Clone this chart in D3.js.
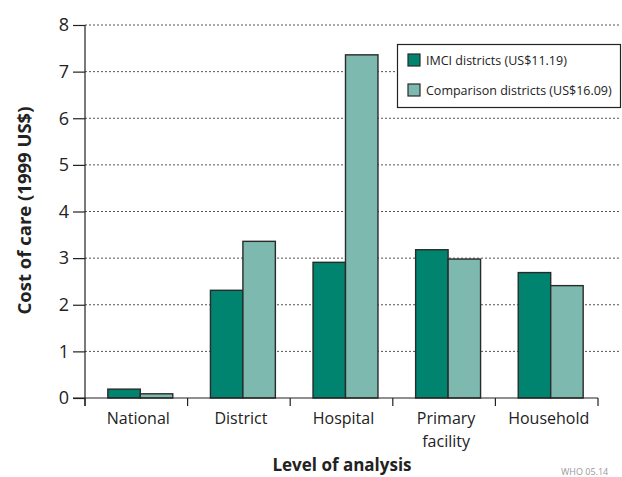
<!DOCTYPE html>
<html>
<head>
<meta charset="utf-8">
<script src="https://cdn.jsdelivr.net/npm/d3@7"></script>
<style>
  html, body { margin: 0; padding: 0; background: #fff; }
  svg { display: block; font-family: "Open Sans", "Noto Sans", sans-serif; }
</style>
</head>
<body>
<div id="chart"></div>
<script>
// chart data
const categories = ['National', 'District', 'Hospital', 'Primary facility', 'Household'];
const seriesNames = ['IMCI districts (US$11.19)', 'Comparison districts (US$16.09)'];
const imciValues = [0.19, 2.31, 2.91, 3.18, 2.69];
const comparisonValues = [0.09, 3.36, 7.36, 2.98, 2.41];
const yTicks = [0, 1, 2, 3, 4, 5, 6, 7, 8];
const colors = ['#00846f', '#7db9af'];

const width = 622, height = 477;
const margin = { top: 25, right: 3, bottom: 79, left: 85 };
const plotRight = 598;

const svg = d3.select('#chart').append('svg')
  .attr('width', width)
  .attr('height', height);

const x0 = d3.scaleBand()
  .domain(categories)
  .range([margin.left, plotRight])
  .paddingInner(0)
  .paddingOuter(0);

const x1 = d3.scaleBand()
  .domain([0, 1])
  .range([0, x0.bandwidth()])
  .paddingOuter(0.58)
  .paddingInner(0);

const y = d3.scaleLinear()
  .domain([0, 8])
  .range([height - margin.bottom, margin.top]);

// dotted gridlines
svg.append('g')
  .selectAll('line')
  .data(yTicks.filter(d => d > 0))
  .enter()
  .append('line')
  .attr('x1', margin.left)
  .attr('x2', 619)
  .attr('y1', d => y(d))
  .attr('y2', d => y(d))
  .attr('stroke', '#555')
  .attr('stroke-width', 1)
  .attr('stroke-dasharray', '2,2');

// bars
const rows = categories.map((c, i) => ({ cat: c, vals: [imciValues[i], comparisonValues[i]] }));

svg.append('g')
  .selectAll('g')
  .data(rows)
  .enter()
  .append('g')
  .attr('transform', d => `translate(${x0(d.cat) + 4},0)`)
  .selectAll('rect')
  .data(d => d.vals.map((v, k) => ({ k, v })))
  .enter()
  .append('rect')
  .attr('x', d => x1(d.k))
  .attr('y', d => y(d.v))
  .attr('width', x1.bandwidth())
  .attr('height', d => y(0) - y(d.v))
  .attr('fill', d => colors[d.k])
  .attr('stroke', '#2a2a2a')
  .attr('stroke-width', 1.4);

// y axis
const yAxis = svg.append('g')
  .attr('transform', `translate(${margin.left},0)`)
  .call(d3.axisLeft(y).tickValues(yTicks).tickSize(12).tickPadding(4).tickFormat(d3.format('d')));
yAxis.select('.domain').attr('stroke', '#222').attr('stroke-width', 1.2)
  .attr('d', `M0,${y(8)}V${y(0) + 8}`);
yAxis.selectAll('.tick line').attr('stroke', '#222').attr('stroke-width', 1.2);
yAxis.selectAll('.tick text')
  .attr('font-size', '18px')
  .attr('fill', '#222')
  .attr('font-family', '"Open Sans", "Noto Sans", sans-serif');

// x axis
const xAxis = svg.append('g')
  .attr('transform', `translate(0,${y(0)})`)
  .call(d3.axisBottom(x0).tickSize(0).tickPadding(0));
xAxis.select('.domain').remove();
xAxis.selectAll('.tick text').remove();

svg.append('line')
  .attr('x1', margin.left - 12)
  .attr('x2', plotRight)
  .attr('y1', y(0))
  .attr('y2', y(0))
  .attr('stroke', '#222')
  .attr('stroke-width', 1.2);

svg.append('g')
  .selectAll('line')
  .data(categories.concat(['end']))
  .enter()
  .append('line')
  .attr('x1', (d, i) => margin.left + i * x0.bandwidth())
  .attr('x2', (d, i) => margin.left + i * x0.bandwidth())
  .attr('y1', y(0))
  .attr('y2', y(0) + 8)
  .attr('stroke', '#222')
  .attr('stroke-width', 1.2);

// category labels
const labels = svg.append('g')
  .selectAll('text')
  .data(categories)
  .enter()
  .append('text')
  .attr('x', d => x0(d) + x0.bandwidth() / 2 + 2)
  .attr('y', y(0) + 26)
  .attr('text-anchor', 'middle')
  .attr('font-size', '16px')
  .attr('fill', '#222');
labels.each(function(d) {
  const words = d === 'Primary facility' ? ['Primary', 'facility'] : [d];
  const t = d3.select(this);
  words.forEach((w, i) => {
    t.append('tspan')
      .attr('x', t.attr('x'))
      .attr('dy', i === 0 ? 0 : 23)
      .text(w);
  });
});

// axis titles
svg.append('text')
  .attr('transform', `translate(31,${(y(0) + y(8)) / 2 - 1}) rotate(-90)`)
  .attr('text-anchor', 'middle')
  .attr('font-size', '18.5px')
  .attr('font-weight', 'bold')
  .attr('fill', '#222')
  .text('Cost of care (1999 US$)');

svg.append('text')
  .attr('x', 342)
  .attr('y', 471)
  .attr('text-anchor', 'middle')
  .attr('font-size', '17px')
  .attr('font-weight', 'bold')
  .attr('fill', '#222')
  .text('Level of analysis');

// legend
const legend = svg.append('g');
legend.append('rect')
  .attr('x', 397.5)
  .attr('y', 44.5)
  .attr('width', 223)
  .attr('height', 63)
  .attr('fill', '#fff')
  .attr('stroke', '#222')
  .attr('stroke-width', 1.2);

seriesNames.forEach((name, i) => {
  legend.append('rect')
    .attr('x', 408)
    .attr('y', 54 + i * 30)
    .attr('width', 12)
    .attr('height', 12)
    .attr('fill', colors[i])
    .attr('stroke', '#2a2a2a')
    .attr('stroke-width', 1.2);
  legend.append('text')
    .attr('x', 426)
    .attr('y', 65 + i * 30)
    .attr('font-size', '12.5px')
    .attr('fill', '#222')
    .text(name);
});

// source code at bottom right
svg.append('text')
  .attr('x', 561)
  .attr('y', 475)
  .attr('font-size', '9px')
  .attr('fill', '#999')
  .text('WHO 05.14');
</script>
</body>
</html>
